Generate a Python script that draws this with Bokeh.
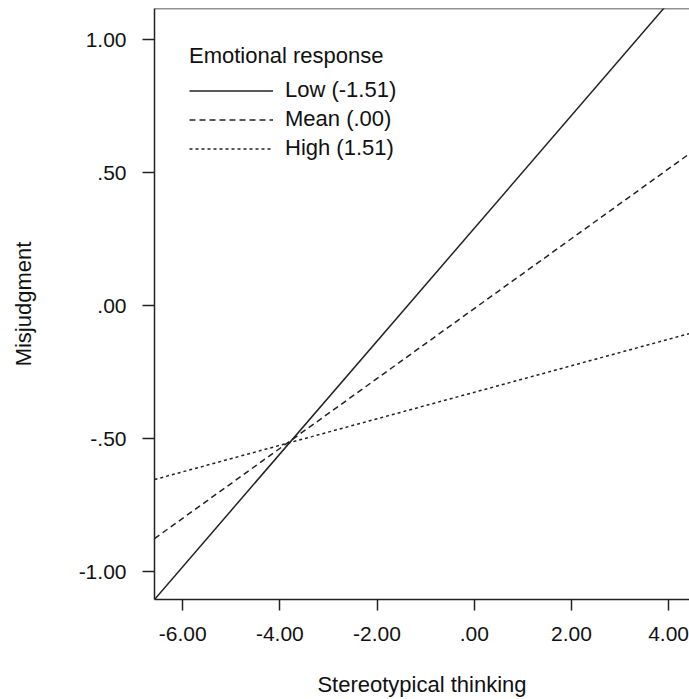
from bokeh.plotting import figure
from bokeh.models import FixedTicker, Legend, LegendItem, Span
from bokeh.embed import file_html
from bokeh.resources import INLINE

# Data: line endpoints for each moderator level
x_ends = [-6.58, 4.43]
low_y = [-1.105, 1.23]
mean_y = [-0.876, 0.571]
high_y = [-0.654, -0.105]

series_labels = ["Low (-1.51)", "Mean (.00)", "High (1.51)"]
legend_title = "Emotional response"

x_ticks = [-6, -4, -2, 0, 2, 4]
x_tick_labels = ["-6.00", "-4.00", "-2.00", ".00", "2.00", "4.00"]
y_ticks = [-1.0, -0.5, 0.0, 0.5, 1.0]
y_tick_labels = ["-1.00", "-.50", ".00", ".50", "1.00"]

FONT = "Liberation Sans"
INK = "#222222"
TXT = "#111111"

p = figure(width=689, height=699, x_range=(-6.58, 4.43), y_range=(-1.105, 1.117),
           output_backend="svg", toolbar_location=None,
           min_border_left=154, min_border_right=0, min_border_top=8, min_border_bottom=100)
p.grid.visible = False
p.outline_line_color = None
p.background_fill_color = "white"
p.border_fill_color = "white"

for ax in (p.xaxis[0], p.yaxis[0]):
    ax.axis_line_color = INK
    ax.axis_line_width = 1.5
    ax.major_tick_line_color = INK
    ax.major_tick_line_width = 1.5
    ax.major_tick_in = 0
    ax.minor_tick_line_color = None
    ax.major_label_text_font = FONT
    ax.major_label_text_font_size = "21px"
    ax.major_label_text_color = TXT
    ax.axis_label_text_font = FONT
    ax.axis_label_text_font_size = "22px"
    ax.axis_label_text_font_style = "normal"
    ax.axis_label_text_color = TXT

p.xaxis.ticker = FixedTicker(ticks=x_ticks)
p.xaxis.major_label_overrides = dict(zip(x_ticks, x_tick_labels))
p.yaxis.ticker = FixedTicker(ticks=y_ticks)
p.yaxis.major_label_overrides = dict(zip(y_ticks, y_tick_labels))
p.xaxis.major_tick_out = 11
p.yaxis.major_tick_out = 12
p.xaxis.major_label_standoff = 16
p.yaxis.major_label_standoff = 16
p.xaxis.axis_label = "Stereotypical thinking"
p.yaxis.axis_label = "Misjudgment"
p.xaxis.axis_label_standoff = 28
p.yaxis.axis_label_standoff = 40

top = Span(location=1.117, dimension="width", line_color=INK, line_width=1.5)
p.add_layout(top)

r_low = p.line(x_ends, low_y, line_color=INK, line_width=1.5)
r_mean = p.line(x_ends, mean_y, line_color=INK, line_width=1.5, line_dash="6 4")
r_high = p.line(x_ends, high_y, line_color=INK, line_width=1.5, line_dash="3 3")

legend = Legend(items=[LegendItem(label=series_labels[0], renderers=[r_low]),
                       LegendItem(label=series_labels[1], renderers=[r_mean]),
                       LegendItem(label=series_labels[2], renderers=[r_high])],
                location="top_left", title=legend_title)
legend.margin = 35
legend.padding = 0
legend.border_line_color = None
legend.background_fill_alpha = 0
legend.title_text_font = FONT
legend.title_text_font_size = "22px"
legend.title_text_font_style = "normal"
legend.title_text_color = TXT
legend.title_standoff = 8
legend.label_text_font = FONT
legend.label_text_font_size = "22px"
legend.label_text_color = TXT
legend.glyph_width = 84
legend.glyph_height = 25
legend.label_height = 25
legend.spacing = 3
legend.label_standoff = 12
p.add_layout(legend)

open("out.html", "w").write(file_html(p, INLINE))
